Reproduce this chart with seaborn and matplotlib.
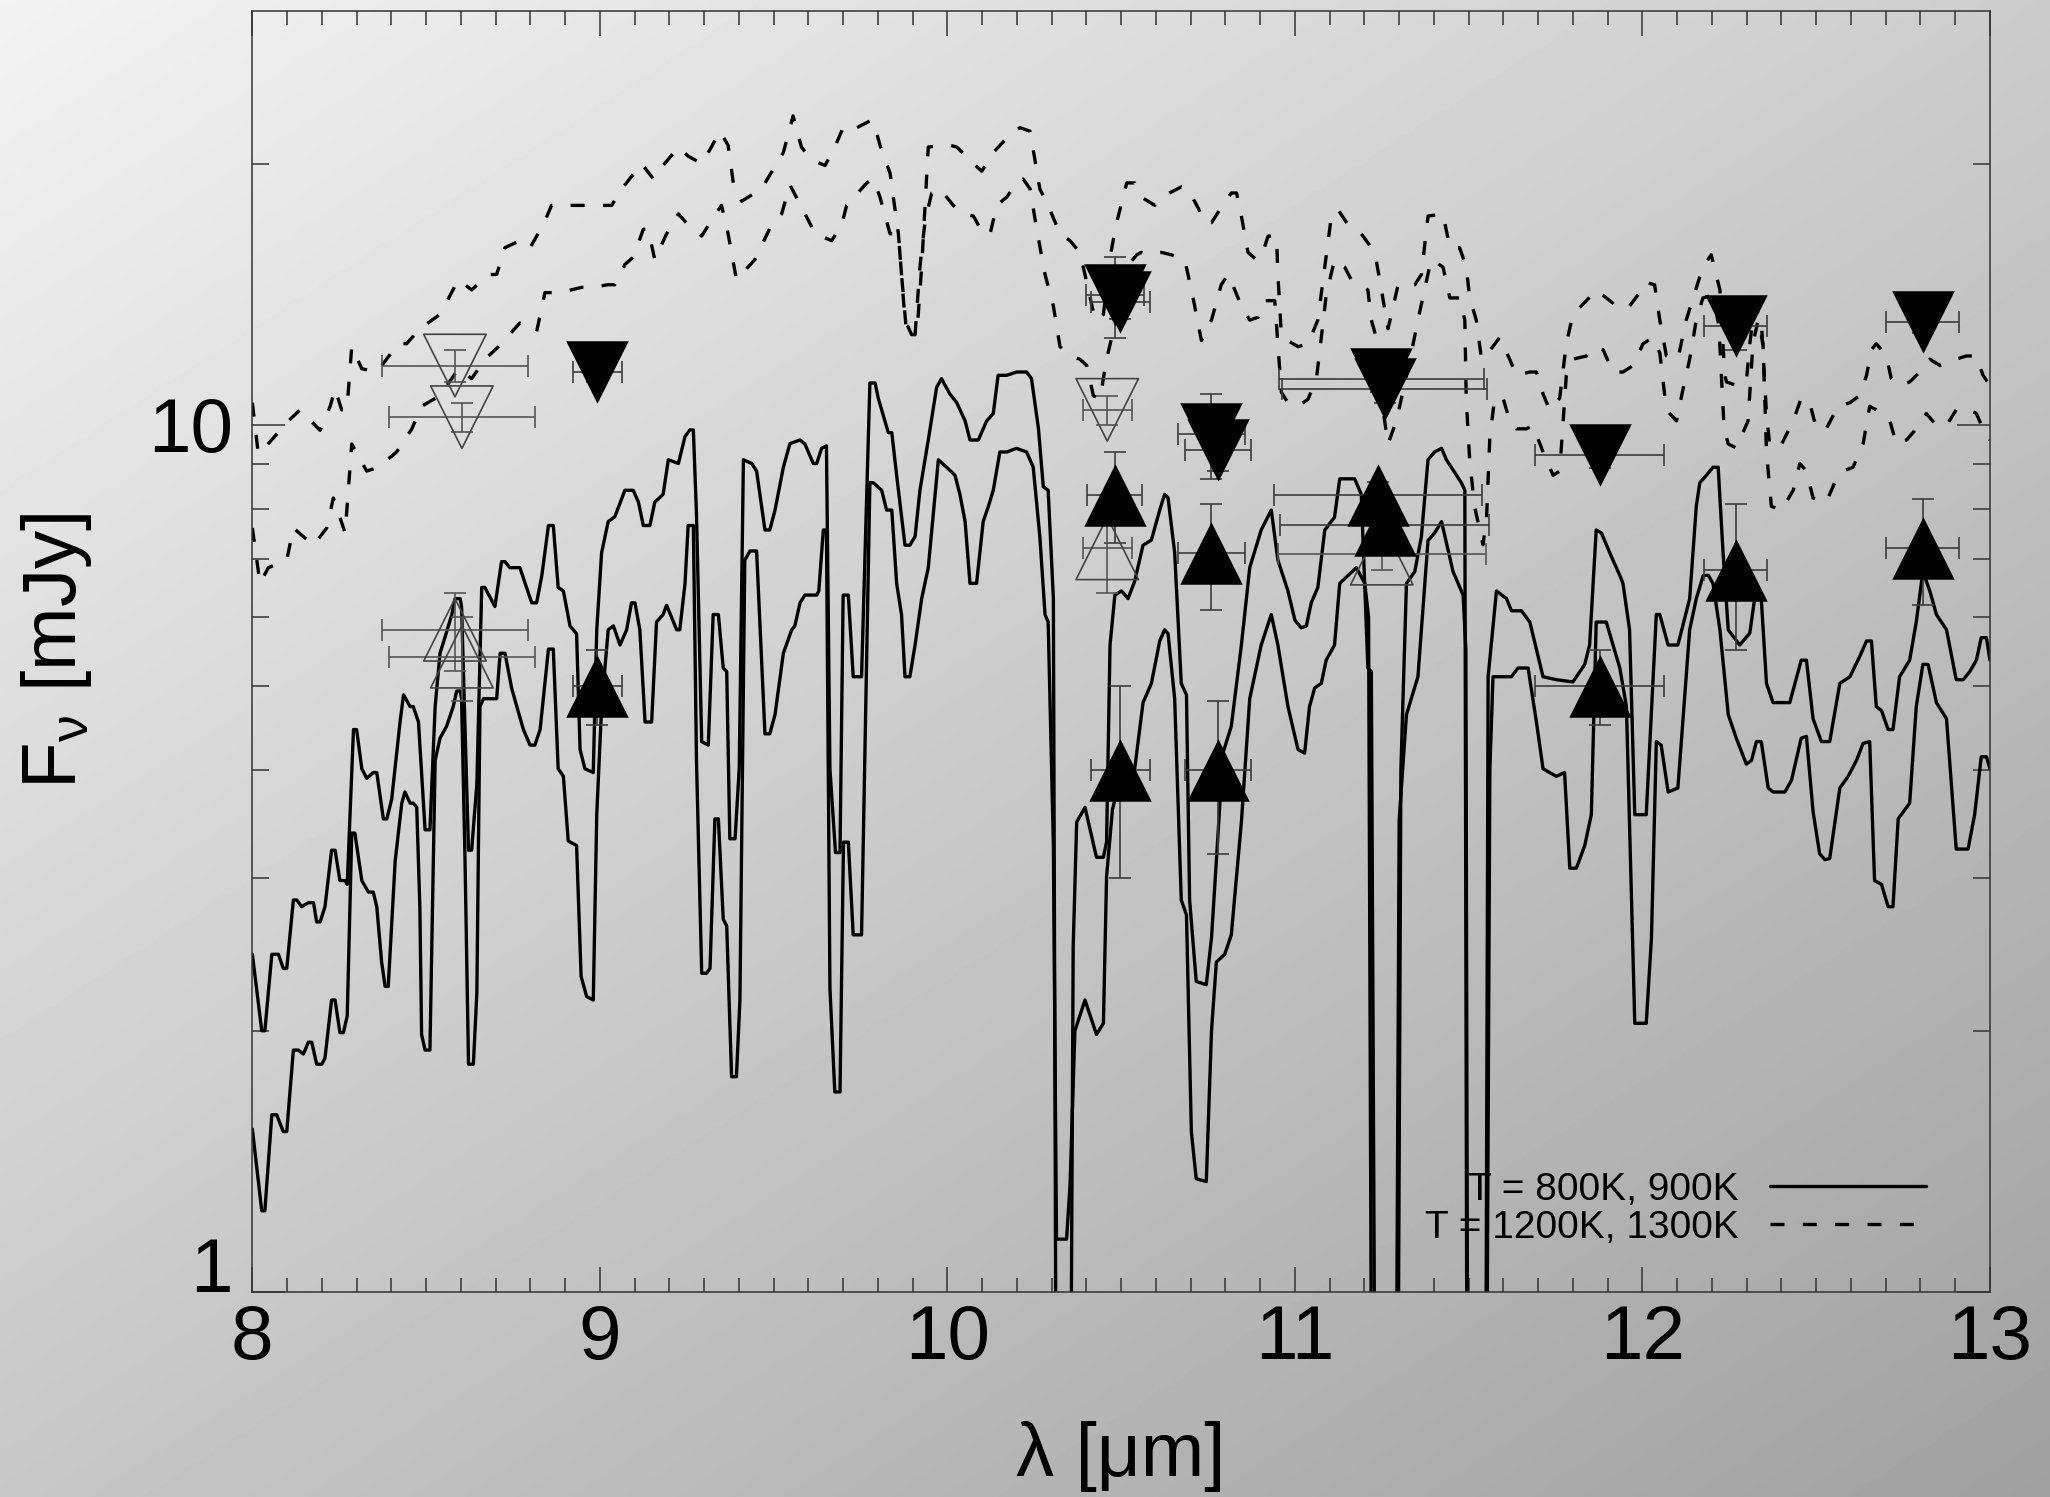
import matplotlib
matplotlib.use("Agg")
import matplotlib.pyplot as plt
import numpy as np
import pandas as pd
import seaborn as sns
from matplotlib.lines import Line2D
from matplotlib.ticker import FixedLocator, FuncFormatter, MultipleLocator, NullFormatter

# model spectra (wavelength in micron, flux in mJy)
lam_800 = [8.000, 8.027, 8.036, 8.056, 8.070, 8.089, 8.099, 8.118, 8.132, 8.147, 8.161, 8.171, 8.185, 8.200,
           8.209, 8.228, 8.238, 8.252, 8.262, 8.273, 8.286, 8.295, 8.315, 8.334, 8.348, 8.358, 8.372, 8.382,
           8.391, 8.411, 8.430, 8.439, 8.454, 8.463, 8.473, 8.482, 8.487, 8.497, 8.511, 8.526, 8.540, 8.559,
           8.578, 8.588, 8.598, 8.602, 8.612, 8.622, 8.636, 8.646, 8.655, 8.665, 8.703, 8.713, 8.727, 8.746,
           8.761, 8.780, 8.799, 8.813, 8.828, 8.852, 8.866, 8.880, 8.895, 8.909, 8.933, 8.946, 8.962, 8.981,
           8.991, 9.005, 9.024, 9.039, 9.058, 9.077, 9.091, 9.101, 9.115, 9.130, 9.149, 9.163, 9.182, 9.192,
           9.221, 9.230, 9.245, 9.254, 9.269, 9.278, 9.293, 9.307, 9.317, 9.331, 9.341, 9.355, 9.365, 9.379,
           9.393, 9.403, 9.417, 9.432, 9.451, 9.475, 9.489, 9.504, 9.528, 9.552, 9.561, 9.576, 9.590, 9.624,
           9.630, 9.643, 9.652, 9.662, 9.676, 9.691, 9.701, 9.715, 9.729, 9.753, 9.777, 9.787, 9.811, 9.825,
           9.840, 9.854, 9.868, 9.878, 9.892, 9.907, 9.926, 9.945, 9.974, 9.998, 10.022, 10.036, 10.051,
           10.065, 10.084, 10.103, 10.118, 10.132, 10.151, 10.171, 10.199, 10.228, 10.247, 10.266, 10.281,
           10.290, 10.305, 10.314, 10.343, 10.353, 10.367, 10.396, 10.429, 10.449, 10.458, 10.475, 10.490,
           10.510, 10.539, 10.563, 10.587, 10.611, 10.625, 10.635, 10.654, 10.673, 10.688, 10.702, 10.716,
           10.745, 10.760, 10.774, 10.798, 10.817, 10.846, 10.870, 10.903, 10.932, 10.951, 10.980, 11.009,
           11.028, 11.042, 11.057, 11.076, 11.090, 11.114, 11.129, 11.153, 11.177, 11.201, 11.212, 11.222,
           11.290, 11.300, 11.321, 11.354, 11.383, 11.402, 11.422, 11.455, 11.484, 11.492, 11.498, 11.550,
           11.561, 11.570, 11.623, 11.642, 11.671, 11.695, 11.714, 11.752, 11.776, 11.791, 11.810, 11.834,
           11.853, 11.867, 11.896, 11.935, 11.954, 11.978, 12.011, 12.026, 12.040, 12.054, 12.074, 12.102,
           12.136, 12.155, 12.175, 12.190, 12.203, 12.223, 12.247, 12.270, 12.299, 12.314, 12.328, 12.342,
           12.362, 12.376, 12.410, 12.429, 12.457, 12.472, 12.491, 12.510, 12.525, 12.539, 12.568, 12.592,
           12.616, 12.635, 12.654, 12.668, 12.688, 12.707, 12.721, 12.736, 12.769, 12.788, 12.807, 12.822,
           12.846, 12.875, 12.903, 12.937, 12.956, 12.975, 12.990, 13.000]
flux_800 = [1.54, 1.24, 1.24, 1.60, 1.60, 1.53, 1.53, 1.90, 1.90, 1.88, 1.94, 1.94, 1.83, 1.83,
            1.86, 2.17, 2.17, 1.99, 1.99, 2.08, 3.38, 3.38, 2.98, 2.89, 2.89, 2.78, 2.40, 2.25,
            2.25, 3.14, 3.66, 3.77, 3.66, 3.66, 3.62, 2.78, 1.98, 1.90, 1.90, 4.10, 4.35, 4.49,
            4.73, 4.93, 4.93, 4.83, 3.14, 1.83, 1.83, 2.21, 4.73, 4.83, 4.83, 5.45, 5.45, 4.97,
            4.73, 4.45, 4.27, 4.27, 4.45, 5.51, 5.51, 4.01, 3.93, 3.31, 3.27, 2.31, 2.19, 2.17,
            3.55, 4.73, 5.80, 5.86, 5.57, 5.80, 6.23, 6.23, 5.80, 4.54, 4.54, 5.92, 6.04, 6.19,
            5.80, 5.80, 6.56, 7.65, 7.65, 4.10, 2.33, 2.33, 2.36, 3.51, 3.51, 2.69, 2.64, 1.77,
            1.77, 2.17, 6.98, 7.15, 7.15, 4.40, 4.40, 4.63, 5.45, 5.80, 5.86, 6.23, 6.36, 6.36,
            6.43, 7.56, 7.56, 2.24, 1.70, 1.70, 3.30, 3.30, 2.58, 2.58, 8.57, 8.57, 8.40, 7.97,
            7.97, 6.56, 6.04, 5.12, 5.12, 5.57, 6.30, 6.84, 9.11, 8.93, 8.74, 8.31, 7.73,
            6.56, 6.56, 7.73, 8.05, 8.40, 9.30, 9.30, 9.39, 9.30, 8.93, 7.43, 6.04,
            5.92, 3.27, 1.15, 1.15, 1.33, 2.00, 2.17, 1.98, 2.04, 3.01, 3.60, 3.80,
            3.90, 4.01, 4.78, 5.03, 5.63, 5.80, 5.74, 4.83, 2.83, 2.72, 1.53, 1.35,
            1.34, 2.00, 2.40, 2.45, 2.58, 3.48, 4.83, 5.57, 6.04, 5.57, 4.73, 4.22,
            4.18, 4.73, 4.97, 5.03, 5.35, 5.57, 6.56, 6.70, 6.84, 6.56, 6.00, 0.50,
            0.50, 3.50, 4.63, 5.12, 7.35, 7.50, 7.73, 6.77, 6.36, 5.50, 0.50, 0.50,
            4.00, 5.12, 5.12, 5.24, 5.24, 4.54, 4.01, 3.93, 3.97, 3.08, 3.08, 3.27,
            3.55, 5.92, 5.92, 5.24, 4.73, 2.04, 2.04, 2.56, 4.31, 4.27, 3.77, 3.81,
            5.80, 6.30, 6.70, 6.70, 6.56, 5.80, 4.63, 4.35, 4.06, 4.10, 4.31, 4.31,
            3.81, 3.77, 3.77, 3.89, 4.35, 4.37, 3.58, 3.20, 3.15, 3.16, 3.81, 3.93,
            4.10, 4.29, 4.31, 2.98, 2.95, 2.78, 2.78, 3.51, 3.66, 4.73, 5.29, 5.29,
            4.78, 4.58, 3.24, 3.24, 3.55, 4.14, 4.14, 4.01]

lam_900 = [8.000, 8.027, 8.036, 8.056, 8.075, 8.089, 8.099, 8.118, 8.128, 8.142, 8.161, 8.176, 8.185, 8.195,
           8.209, 8.228, 8.238, 8.252, 8.267, 8.273, 8.291, 8.300, 8.315, 8.329, 8.348, 8.358, 8.377, 8.387,
           8.401, 8.425, 8.435, 8.454, 8.463, 8.478, 8.497, 8.511, 8.526, 8.540, 8.554, 8.574, 8.583, 8.598,
           8.602, 8.622, 8.631, 8.646, 8.660, 8.669, 8.698, 8.717, 8.727, 8.741, 8.770, 8.785, 8.804, 8.818,
           8.833, 8.852, 8.866, 8.880, 8.895, 8.914, 8.933, 8.943, 8.957, 8.981, 8.991, 9.005, 9.024, 9.043,
           9.072, 9.096, 9.111, 9.125, 9.144, 9.158, 9.182, 9.197, 9.226, 9.245, 9.259, 9.269, 9.278, 9.293,
           9.312, 9.326, 9.341, 9.355, 9.365, 9.374, 9.389, 9.401, 9.413, 9.437, 9.451, 9.475, 9.489, 9.504,
           9.528, 9.547, 9.576, 9.590, 9.614, 9.624, 9.638, 9.652, 9.662, 9.678, 9.691, 9.700, 9.715, 9.729,
           9.753, 9.777, 9.792, 9.801, 9.830, 9.840, 9.854, 9.878, 9.892, 9.907, 9.921, 9.945, 9.969, 9.983,
           10.007, 10.027, 10.051, 10.065, 10.089, 10.113, 10.132, 10.146, 10.171, 10.199, 10.228, 10.242,
           10.262, 10.276, 10.290, 10.305, 10.314, 10.353, 10.362, 10.372, 10.396, 10.429, 10.449, 10.458,
           10.468, 10.482, 10.501, 10.520, 10.539, 10.563, 10.587, 10.611, 10.625, 10.635, 10.654, 10.673,
           10.688, 10.697, 10.716, 10.745, 10.760, 10.774, 10.793, 10.817, 10.846, 10.870, 10.903, 10.932,
           10.951, 10.980, 11.000, 11.018, 11.033, 11.047, 11.066, 11.086, 11.114, 11.129, 11.172, 11.191,
           11.210, 11.220, 11.232, 11.295, 11.305, 11.321, 11.345, 11.364, 11.383, 11.402, 11.422, 11.436,
           11.479, 11.489, 11.496, 11.548, 11.556, 11.580, 11.609, 11.623, 11.652, 11.676, 11.714, 11.752,
           11.800, 11.834, 11.848, 11.867, 11.882, 11.911, 11.935, 11.944, 11.963, 11.978, 12.011, 12.040,
           12.050, 12.074, 12.102, 12.136, 12.155, 12.165, 12.184, 12.203, 12.218, 12.232, 12.247, 12.280,
           12.309, 12.323, 12.342, 12.357, 12.376, 12.424, 12.457, 12.472, 12.491, 12.515, 12.539, 12.568,
           12.597, 12.625, 12.645, 12.659, 12.673, 12.688, 12.707, 12.721, 12.740, 12.769, 12.788, 12.807,
           12.827, 12.846, 12.875, 12.903, 12.923, 12.942, 12.961, 12.975, 12.990, 13.000]
flux_900 = [2.45, 2.00, 2.00, 2.45, 2.45, 2.36, 2.36, 2.83, 2.83, 2.78, 2.81, 2.81, 2.67, 2.67,
            2.78, 3.23, 3.23, 2.98, 2.98, 2.95, 4.45, 4.45, 4.01, 3.91, 3.97, 3.97, 3.51, 3.51,
            3.70, 4.54, 4.88, 4.73, 4.73, 4.54, 3.41, 3.41, 4.73, 5.45, 5.68, 6.04, 6.30, 6.30,
            6.17, 3.23, 3.23, 3.85, 6.49, 6.49, 6.17, 6.95, 6.95, 6.84, 6.84, 6.56, 6.23, 6.23,
            6.70, 7.65, 7.65, 6.49, 6.43, 5.86, 5.74, 4.22, 4.01, 3.97, 5.80, 7.12, 7.73, 7.83,
            8.40, 8.40, 8.14, 7.65, 7.65, 8.14, 8.31, 9.11, 9.02, 9.69, 9.86, 9.86, 7.89, 4.31,
            4.27, 6.04, 6.04, 5.24, 5.19, 3.33, 3.33, 4.01, 9.11, 9.02, 8.84, 7.56, 7.56, 7.97,
            8.93, 9.51, 9.60, 9.50, 9.02, 9.02, 9.39, 9.45, 4.01, 3.21, 3.21, 6.36, 6.36, 5.12,
            5.12, 11.17, 11.17, 10.73, 9.79, 9.79, 8.74, 7.26, 7.26, 7.43, 8.40, 9.60, 11.04, 11.30,
            10.85, 10.60, 10.10, 9.60, 9.60, 10.10, 10.30, 11.40, 11.40, 11.50, 11.50, 11.30,
            9.90, 8.48, 8.40, 6.30, 0.50, 0.50, 2.50, 3.48, 3.62, 3.17, 3.17, 3.30,
            5.57, 6.36, 6.43, 6.30, 6.60, 7.26, 7.36, 7.97, 8.31, 8.23, 7.12, 5.03,
            4.88, 2.83, 2.28, 2.26, 2.56, 3.14, 4.18, 4.49, 5.57, 6.84, 7.56, 7.97,
            6.98, 6.43, 5.95, 5.83, 5.86, 6.23, 6.49, 7.56, 7.82, 8.66, 8.66, 8.31,
            5.24, 5.19, 0.50, 0.50, 4.00, 6.56, 6.77, 7.43, 9.11, 9.30, 9.39, 9.11,
            8.57, 8.40, 0.50, 0.50, 5.12, 6.43, 6.30, 6.10, 6.10, 5.92, 5.12, 5.08,
            5.05, 5.29, 5.57, 7.56, 7.50, 7.04, 6.70, 6.56, 5.80, 3.55, 3.55, 6.04,
            6.04, 5.57, 5.57, 6.30, 8.05, 8.57, 8.74, 8.93, 8.93, 7.12, 5.80, 5.57,
            5.75, 6.30, 6.30, 5.03, 4.78, 4.78, 5.35, 5.35, 4.58, 4.31, 4.31, 5.03,
            5.12, 5.40, 5.63, 5.63, 4.73, 4.68, 4.45, 4.45, 5.12, 5.35, 5.92, 6.77,
            6.43, 6.04, 5.80, 5.08, 5.08, 5.19, 5.35, 5.68, 5.68, 5.35]

lam_1200 = [8.000, 8.022, 8.046, 8.099, 8.118, 8.176, 8.214, 8.233, 8.267, 8.286, 8.329, 8.363, 8.415, 8.459,
            8.487, 8.540, 8.593, 8.631, 8.670, 8.708, 8.770, 8.818, 8.842, 8.885, 8.948, 8.976, 9.024, 9.043,
            9.072, 9.096, 9.125, 9.139, 9.158, 9.192, 9.226, 9.254, 9.293, 9.321, 9.350, 9.369, 9.393, 9.446,
            9.494, 9.523, 9.547, 9.600, 9.619, 9.667, 9.696, 9.710, 9.768, 9.787, 9.806, 9.835, 9.859, 9.868,
            9.883, 9.907, 9.921, 9.936, 9.955, 9.979, 10.017, 10.046, 10.075, 10.103, 10.123, 10.142, 10.171,
            10.199, 10.218, 10.238, 10.257, 10.281, 10.305, 10.324, 10.353, 10.381, 10.401, 10.420, 10.439,
            10.458, 10.487, 10.516, 10.545, 10.558, 10.577, 10.616, 10.644, 10.683, 10.707, 10.731, 10.760,
            10.788, 10.808, 10.827, 10.846, 10.870, 10.894, 10.913, 10.942, 10.951, 10.961, 10.980, 11.009,
            11.038, 11.062, 11.076, 11.090, 11.114, 11.143, 11.162, 11.210, 11.220, 11.239, 11.249, 11.268,
            11.292, 11.306, 11.335, 11.354, 11.373, 11.392, 11.426, 11.446, 11.474, 11.489, 11.493, 11.503,
            11.517, 11.541, 11.551, 11.561, 11.575, 11.599, 11.618, 11.637, 11.666, 11.685, 11.714, 11.743,
            11.762, 11.772, 11.781, 11.800, 11.839, 11.867, 11.887, 11.915, 11.944, 11.973, 12.002, 12.030,
            12.050, 12.069, 12.098, 12.117, 12.136, 12.155, 12.174, 12.203, 12.220, 12.235, 12.247, 12.270,
            12.304, 12.318, 12.333, 12.347, 12.357, 12.371, 12.400, 12.434, 12.453, 12.472, 12.491, 12.529,
            12.558, 12.577, 12.606, 12.635, 12.654, 12.673, 12.712, 12.731, 12.760, 12.788, 12.817, 12.846,
            12.875, 12.903, 12.932, 12.961, 12.980, 13.000]
flux_1200 = [7.6, 6.56, 6.84, 6.98, 7.6, 7.26, 7.6, 8.23, 7.5, 9.5, 8.84, 8.93, 9.30, 9.89,
             10.5, 10.8, 11.6, 11.3, 11.9, 12.3, 13.1, 12.8, 14.2, 14.2, 14.4, 14.4, 14.5, 14.5,
             15.3, 15.6, 16.8, 16.8, 15.5, 16.6, 17.5, 17.0, 16.5, 17.2, 17.9, 16.6, 14.7, 15.5,
             17.0, 17.5, 18.9, 17.2, 16.6, 16.3, 17.0, 17.9, 19.0, 19.2, 18.3, 16.6, 16.6, 14.9,
             12.7, 12.7, 15.2, 17.2, 18.5, 18.7, 17.9, 17.5, 17.4, 16.6, 16.6, 17.9, 18.3,
             19.0, 19.2, 18.7, 16.8, 14.9, 13.7, 12.3, 12.0, 11.9, 11.7, 10.8, 10.7,
             11.9, 13.3, 15.2, 15.7, 15.8, 15.7, 15.8, 15.7, 15.5, 14.0, 12.5, 13.2,
             14.5, 14.9, 14.3, 13.7, 13.2, 13.3, 13.9, 13.9, 12.4, 10.9, 10.6, 10.5,
             10.7, 11.3, 12.6, 14.1, 15.5, 15.2, 14.7, 14.3, 13.2, 12.4, 10.7, 9.5,
             10.1, 10.7, 12.1, 13.2, 14.3, 15.5, 15.2, 14.0, 14.0, 13.2, 10.7, 9.1,
             8.05, 7.27, 7.73, 9.69, 10.73, 10.73, 10.1, 9.89, 9.89, 9.98, 9.30, 8.74,
             8.84, 10.1, 11.4, 11.9, 12.0, 12.3, 12.2, 11.5, 11.5, 11.7, 12.4, 12.6,
             12.1, 10.4, 10.1, 11.0, 11.9, 13.2, 14.0, 14.1, 13.0, 9.9, 9.5, 9.4,
             10.1, 12.4, 13.2, 12.4, 9.3, 8.05, 7.97, 8.4, 9.02, 8.84, 8.23, 8.14,
             8.66, 8.84, 8.93, 9.50, 10.5, 10.4, 10.1, 9.50, 9.60, 9.89, 10.3, 9.98,
             9.98, 10.4, 10.45, 10.3, 9.89, 9.6]

lam_1300 = [8.000, 8.017, 8.041, 8.104, 8.137, 8.195, 8.224, 8.238, 8.257, 8.272, 8.286, 8.315, 8.358, 8.420,
            8.444, 8.482, 8.540, 8.593, 8.631, 8.679, 8.703, 8.727, 8.770, 8.799, 8.837, 8.861, 8.900, 8.928,
            8.967, 9.005, 9.034, 9.063, 9.120, 9.154, 9.182, 9.226, 9.254, 9.293, 9.321, 9.345, 9.369, 9.384,
            9.408, 9.465, 9.528, 9.556, 9.580, 9.609, 9.648, 9.676, 9.700, 9.720, 9.777, 9.787, 9.806, 9.835,
            9.859, 9.878, 9.897, 9.912, 9.926, 9.945, 9.988, 10.007, 10.027, 10.075, 10.099, 10.132, 10.190,
            10.209, 10.238, 10.266, 10.290, 10.324, 10.353, 10.381, 10.401, 10.425, 10.449, 10.468, 10.487,
            10.516, 10.539, 10.558, 10.597, 10.616, 10.673, 10.692, 10.721, 10.740, 10.760, 10.788, 10.817,
            10.832, 10.846, 10.865, 10.889, 10.903, 10.923, 10.947, 10.951, 10.961, 10.980, 11.009, 11.038,
            11.066, 11.086, 11.105, 11.124, 11.153, 11.191, 11.230, 11.249, 11.268, 11.297, 11.345, 11.364,
            11.383, 11.426, 11.446, 11.474, 11.493, 11.503, 11.522, 11.537, 11.556, 11.589, 11.618, 11.637,
            11.676, 11.695, 11.714, 11.733, 11.762, 11.781, 11.800, 11.839, 11.867, 11.906, 11.935, 11.963,
            11.992, 12.007, 12.035, 12.050, 12.069, 12.102, 12.126, 12.146, 12.174, 12.198, 12.223, 12.237,
            12.242, 12.270, 12.299, 12.309, 12.323, 12.342, 12.357, 12.366, 12.395, 12.434, 12.457, 12.481,
            12.501, 12.529, 12.563, 12.597, 12.625, 12.645, 12.659, 12.673, 12.702, 12.716, 12.740, 12.769,
            12.798, 12.827, 12.856, 12.903, 12.932, 12.961, 12.980, 13.000]
flux_1300 = [10.6, 9.26, 9.46, 10.1, 10.4, 9.85, 10.5, 11.0, 10.4, 10.4, 12.3, 11.6, 11.5, 12.4,
             12.4, 12.9, 13.4, 14.7, 14.3, 14.9, 14.9, 16.0, 16.3, 16.0, 17.0, 17.9, 17.9, 17.9,
             17.9, 17.9, 17.9, 18.7, 20.0, 19.2, 19.9, 20.9, 20.4, 20.0, 20.9, 21.8, 21.0, 19.0,
             18.1, 18.7, 20.6, 22.7, 20.9, 20.2, 19.9, 20.9, 22.0, 21.8, 22.4, 22.4, 21.0, 19.5,
             16.6, 13.2, 12.7, 12.7, 15.2, 20.9, 21.0, 21.0, 20.9, 20.0, 19.6, 20.6, 21.8,
             22.0, 21.8, 18.7, 17.9, 16.6, 16.3, 15.8, 14.6, 13.2, 13.4, 15.6, 17.1,
             19.0, 19.0, 18.3, 17.9, 18.3, 18.8, 18.7, 17.8, 17.1, 17.1, 17.8, 18.5,
             18.5, 17.4, 15.8, 15.5, 15.6, 16.5, 16.5, 14.9, 12.7, 12.5, 12.3, 12.4,
             13.2, 15.2, 17.4, 17.7, 17.0, 16.6, 15.8, 14.3, 12.9, 14.5, 14.5, 14.9,
             17.4, 17.5, 16.0, 16.0, 15.2, 14.0, 13.2, 11.9, 12.1, 12.6, 11.9, 11.4,
             11.5, 11.5, 10.85, 10.4, 10.73, 12.4, 13.4, 13.9, 14.3, 13.9, 13.6, 13.7,
             14.2, 14.6, 14.5, 13.2, 12.0, 11.9, 13.2, 14.0, 15.2, 15.7, 14.3, 11.4,
             11.2, 11.1, 11.2, 12.4, 13.7, 13.2, 10.3, 9.5, 9.4, 10.1, 10.73, 10.6,
             9.89, 9.89, 10.5, 10.6, 10.8, 11.4, 12.2, 12.4, 12.0, 11.3, 11.1, 11.2,
             11.5, 11.9, 11.7, 11.9, 12.0, 12.0, 11.4, 11.1]

# photometry: filled down / up triangles, open down / up triangles
lam_dn = [8.993, 10.482, 10.498, 10.760, 10.779, 11.249, 11.258, 11.877, 12.268, 12.807]
f_dn = [11.5, 14.1, 13.85, 9.75, 9.34, 11.3, 11.0, 9.22, 13.0, 13.15]
xerr_dn = [0.071, 0.084, 0.084, 0.096, 0.096, 0.296, 0.296, 0.186, 0.09, 0.105]
yerr_dn = [0.3, 1.5, 0.6, 1.1, 0.5, 0.4, 0.4, 0.3, 0.8, 0.4]

lam_up = [8.993, 10.481, 10.498, 10.760, 10.779, 11.239, 11.258, 11.877, 12.268, 12.807]
f_up = [5.0, 8.3, 4.0, 7.11, 4.0, 8.29, 7.67, 5.0, 6.8, 7.2]
xerr_up = [0.071, 0.08, 0.085, 0.096, 0.096, 0.30, 0.30, 0.186, 0.09, 0.105]
yerr_up = [0.5, 1.0, 1.0, 1.0, 0.8, 0.3, 0.3, 0.5, 1.3, 1.0]

lam_odn = [8.583, 8.603, 10.460]
f_odn = [11.7, 10.2, 10.4]
xerr_odn = [0.209, 0.21, 0.07]
yerr_odn = [0.5, 0.4, 0.4]

lam_oup = [8.583, 8.603, 10.460, 11.250]
f_oup = [5.8, 5.4, 7.2, 7.1]
xerr_oup = [0.209, 0.21, 0.07, 0.30]
yerr_oup = [0.6, 0.6, 0.8, 0.3]

legend_labels = ["T = 800K, 900K", "T = 1200K, 1300K"]

LW = 2.4
DASH = (0, (4.2, 5.5))


def draw_background(fig):
    bg = fig.add_axes([0, 0, 1, 1], zorder=-10)
    xx, yy = np.meshgrid(np.linspace(0, 1, 400), np.linspace(0, 1, 400))
    shade = 0.95 - 0.15 * xx - 0.17 * yy
    bg.imshow(shade, cmap="gray", vmin=0, vmax=1, aspect="auto", extent=(0, 1, 0, 1), origin="upper")
    bg.set_axis_off()


def plot_spectra(ax):
    solid = dict(color="black", lw=LW, estimator=None, sort=False, zorder=2)
    dashed = dict(color="black", lw=LW, estimator=None, sort=False, zorder=2, linestyle=DASH)
    for lam, flux in [(lam_800, flux_800), (lam_900, flux_900)]:
        sns.lineplot(data=pd.DataFrame({"lam": lam, "flux": flux}), x="lam", y="flux", ax=ax, **solid)
    for lam, flux in [(lam_1200, flux_1200), (lam_1300, flux_1300)]:
        sns.lineplot(data=pd.DataFrame({"lam": lam, "flux": flux}), x="lam", y="flux", ax=ax, **dashed)


def plot_photometry(ax):
    ebar = dict(fmt="none", elinewidth=1.2, capsize=8, capthick=1.2, zorder=3)
    ax.errorbar(lam_dn, f_dn, xerr=xerr_dn, yerr=yerr_dn, ecolor="#3c3c3c", **ebar)
    ax.errorbar(lam_up, f_up, xerr=xerr_up, yerr=yerr_up, ecolor="#3c3c3c", **ebar)
    ax.errorbar(lam_odn, f_odn, xerr=xerr_odn, yerr=yerr_odn, ecolor="#555555", **ebar)
    ax.errorbar(lam_oup, f_oup, xerr=xerr_oup, yerr=yerr_oup, ecolor="#555555", **ebar)

    size = 45 ** 2
    sns.scatterplot(x=lam_odn, y=f_odn, marker="v", s=size, facecolor="none", edgecolor="#444444",
                    linewidth=1.2, ax=ax, zorder=4)
    sns.scatterplot(x=lam_oup, y=f_oup, marker="^", s=size, facecolor="none", edgecolor="#444444",
                    linewidth=1.2, ax=ax, zorder=4)
    sns.scatterplot(x=lam_dn, y=f_dn, marker="v", s=size, color="black", linewidth=0, ax=ax, zorder=5)
    sns.scatterplot(x=lam_up, y=f_up, marker="^", s=size, color="black", linewidth=0, ax=ax, zorder=5)


def style_axes(ax):
    ax.set_yscale("log")
    ax.set_xlim(8, 13)
    ax.set_ylim(1, 30)
    ax.xaxis.set_major_locator(MultipleLocator(1))
    ax.xaxis.set_minor_locator(MultipleLocator(0.1))
    ax.yaxis.set_major_locator(FixedLocator([1, 10]))
    ax.yaxis.set_minor_locator(FixedLocator([2, 3, 4, 5, 6, 7, 8, 9, 20]))
    ax.yaxis.set_major_formatter(FuncFormatter(lambda v, _: f"{v:g}"))
    ax.yaxis.set_minor_formatter(NullFormatter())

    tick_col = "#333333"
    ax.tick_params(axis="x", which="major", direction="in", top=True, length=18, width=1.1,
                   color=tick_col, labelcolor="black", pad=9, labelsize=55)
    ax.tick_params(axis="x", which="minor", direction="in", top=True, length=10, width=1.1, color=tick_col)
    ax.tick_params(axis="y", which="major", direction="in", right=True, length=24, width=1.1,
                   color=tick_col, labelcolor="black", pad=14, labelsize=55)
    ax.tick_params(axis="y", which="minor", direction="in", right=True, length=12, width=1.1, color=tick_col)
    for sp in ax.spines.values():
        sp.set_color(tick_col)
        sp.set_linewidth(1.1)
    # the "1" label sits on its tick, clear of the x labels
    ax.yaxis.get_major_ticks()[0].label1.set_verticalalignment("baseline")

    ax.set_xlabel("λ [μm]", fontsize=55, color="black")
    ax.xaxis.set_label_coords(0.5, -0.101)
    ax.set_ylabel(r"F$_{\mathrm{\nu}}$ [mJy]", fontsize=55, color="black")
    ax.yaxis.set_label_coords(-0.091, 0.5)

    handles = [Line2D([], [], color="black", lw=LW),
               Line2D([], [], color="black", lw=LW, linestyle=DASH)]
    leg = ax.legend(handles, legend_labels, loc="lower right", bbox_to_anchor=(0.963, 0.036), frameon=False,
                    markerfirst=False, handlelength=4.0, handletextpad=0.8, fontsize=28, labelspacing=0.05,
                    borderpad=0, borderaxespad=0)
    for txt in leg.get_texts():
        txt.set_color("black")


if __name__ == "__main__":
    sns.set_style("ticks")
    plt.rcParams["font.family"] = ["Liberation Sans", "DejaVu Sans"]
    plt.rcParams["text.color"] = "black"
    plt.rcParams["mathtext.fontset"] = "custom"
    plt.rcParams["mathtext.rm"] = "Liberation Sans"
    plt.rcParams["mathtext.it"] = "Liberation Sans:italic"

    fig = plt.figure(figsize=(20.5, 14.97), dpi=100)
    draw_background(fig)
    ax = fig.add_axes([0.1231, 0.1371, 0.8476, 0.8556])
    ax.set_facecolor("none")
    plot_spectra(ax)
    plot_photometry(ax)
    style_axes(ax)
    fig.savefig("out.png", dpi=100)
